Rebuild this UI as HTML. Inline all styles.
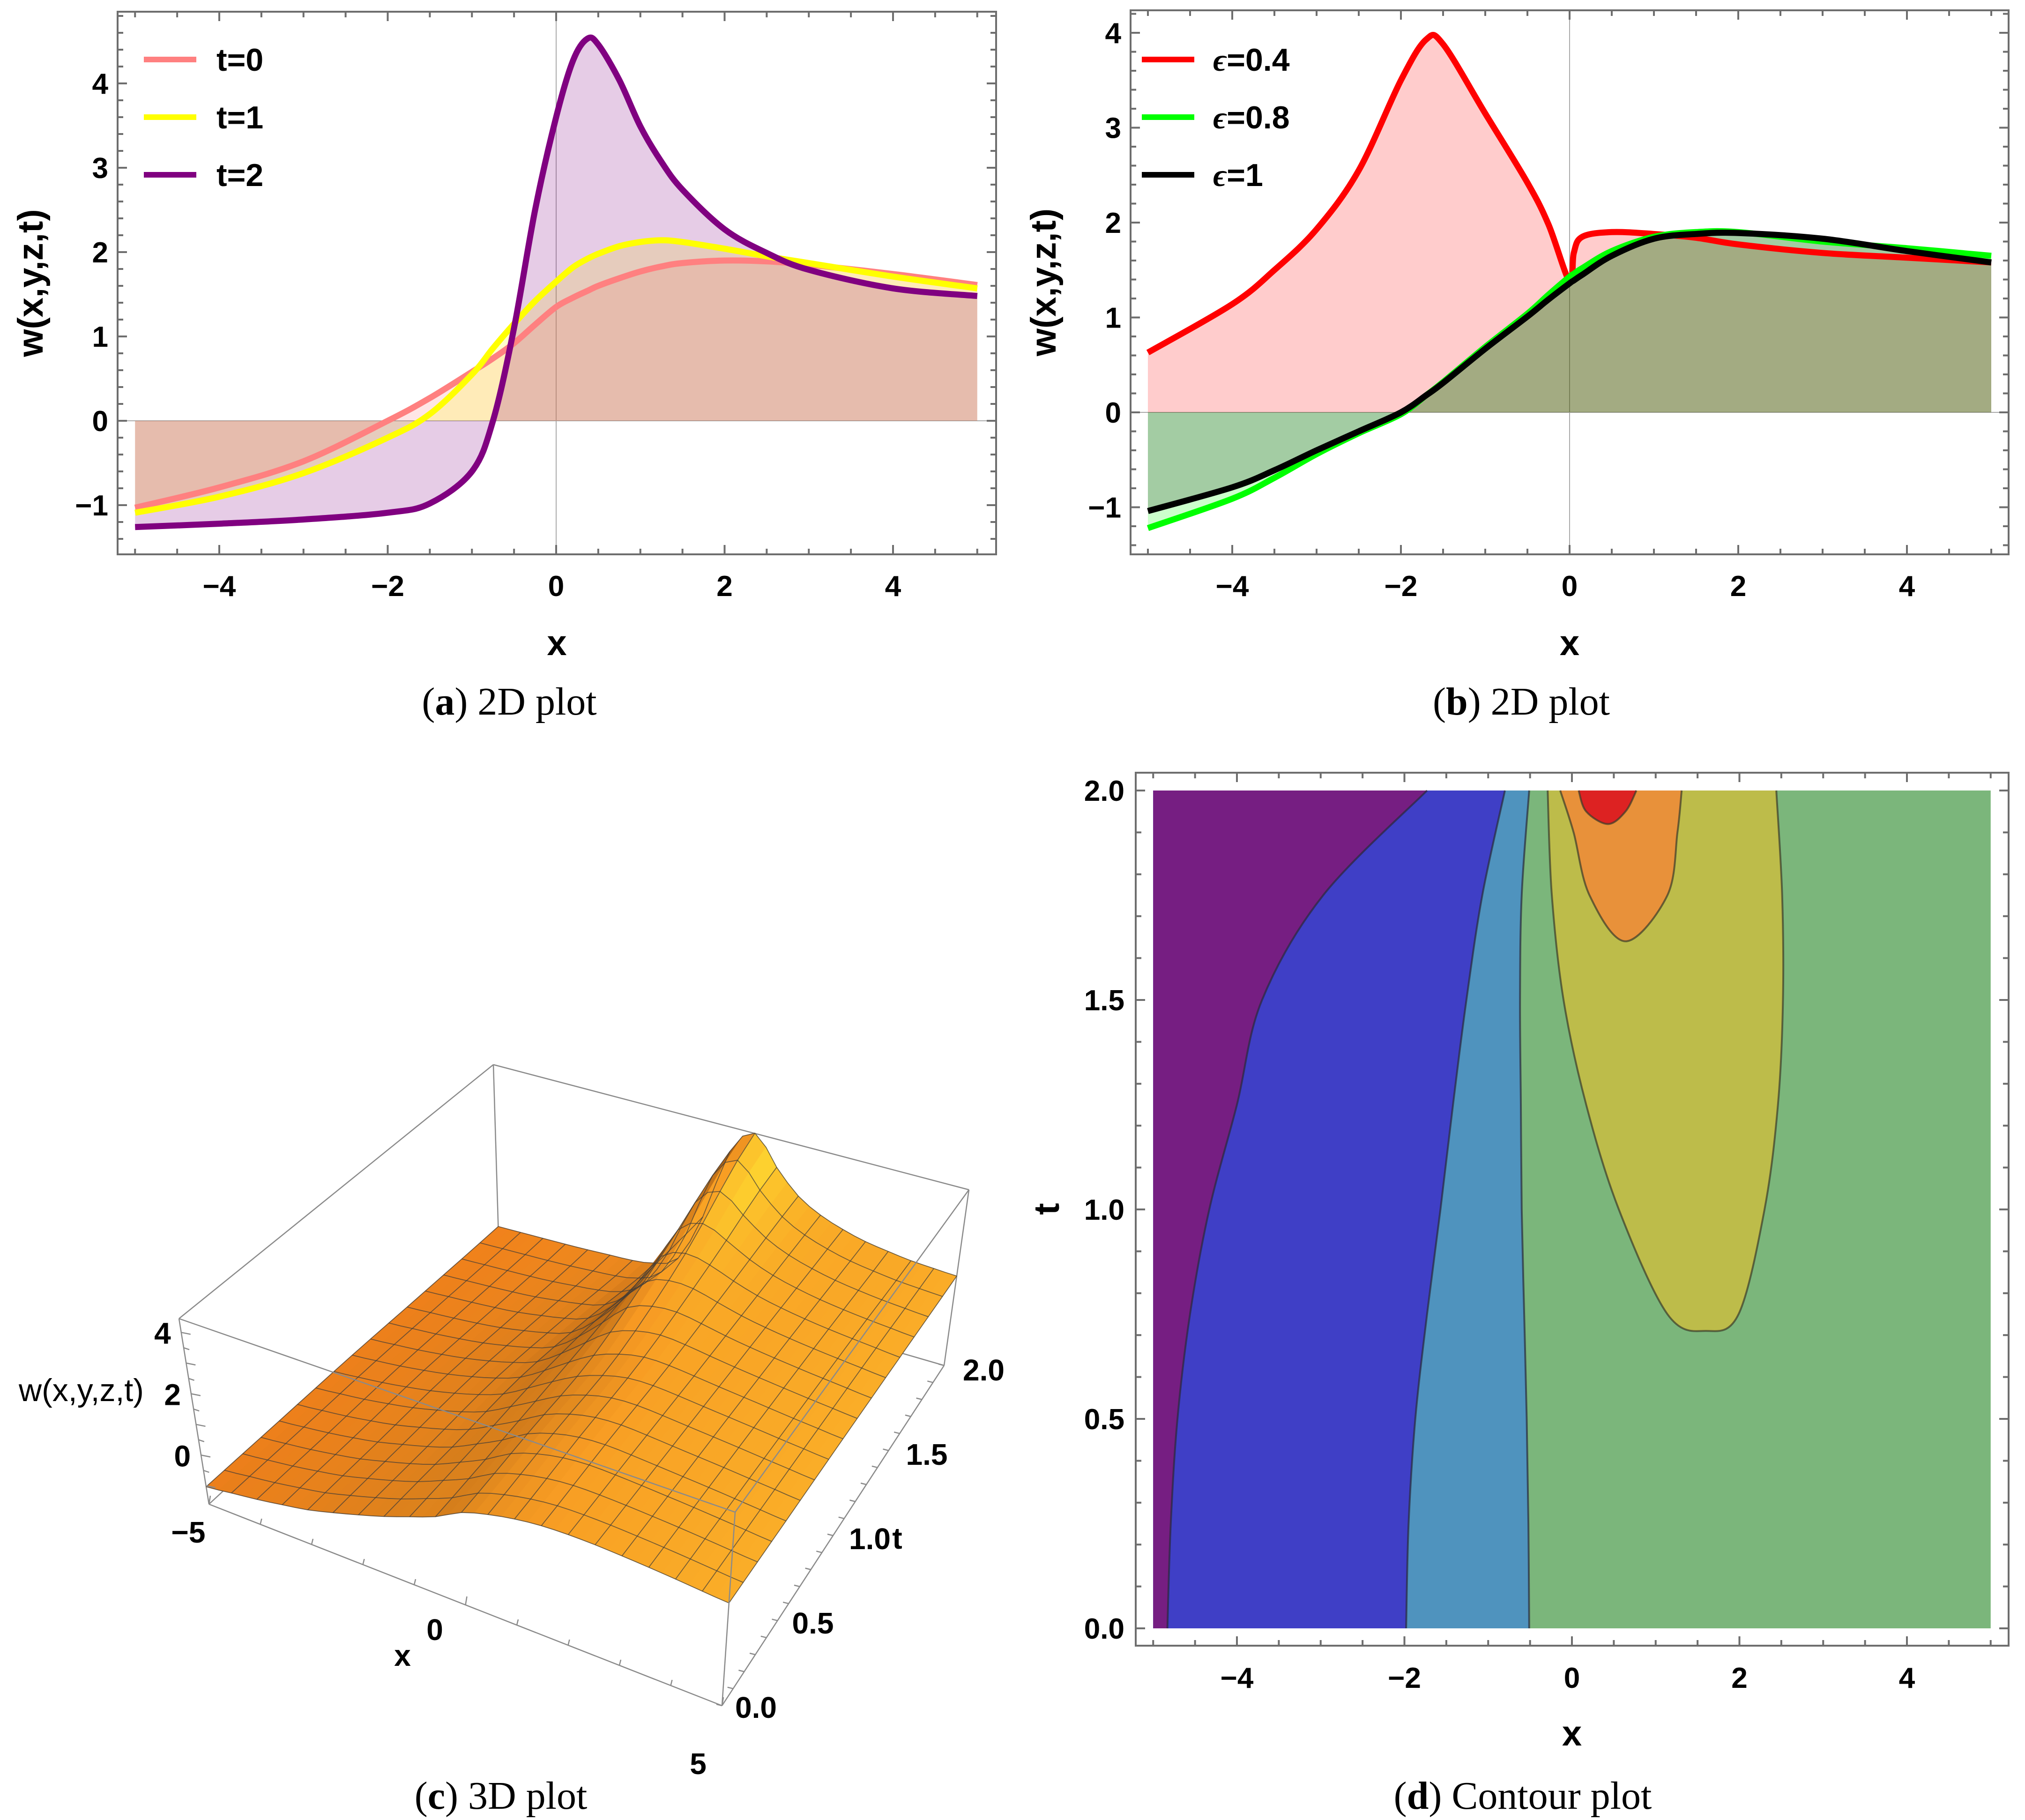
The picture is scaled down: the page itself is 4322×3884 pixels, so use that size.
<!DOCTYPE html>
<html><head><meta charset="utf-8"><style>
html,body{margin:0;padding:0;background:#fff}
svg{display:block}
text{font-family:"Liberation Sans",sans-serif}
.tk{font-weight:bold;font-size:62px}
.ttl{font-weight:bold;font-size:76px}
.cap{font-family:"Liberation Serif",serif;font-size:84px}
</style></head><body>
<svg id="fig" xmlns="http://www.w3.org/2000/svg" width="4322" height="3884" viewBox="0 0 4322 3884">
<rect x="0" y="0" width="4322" height="3884" fill="#fff"/>
<g id="pa"></g>
<g id="pb"></g>
<g id="pc"></g>
<g id="pd"></g>
<text class="cap" x="1087" y="1525" text-anchor="middle">(<tspan font-weight="bold">a</tspan>) 2D plot</text>
<text class="cap" x="3247" y="1525" text-anchor="middle">(<tspan font-weight="bold">b</tspan>) 2D plot</text>
<text class="cap" x="1069" y="3860" text-anchor="middle">(<tspan font-weight="bold">c</tspan>) 3D plot</text>
<text class="cap" x="3250" y="3860" text-anchor="middle">(<tspan font-weight="bold">d</tspan>) Contour plot</text>
</svg>
<script>
// ---------- Panel (a) data ----------
const xsA = [-5,-4,-3,-2,-1.5,-1,-0.75,-0.5,-0.25,0,0.2,0.37,0.5,0.75,1,1.25,1.5,2,2.5,3,4,5];
const t0Vals = [-1.03,-0.79,-0.48,0,0.27,0.58,0.74,0.92,1.14,1.35,1.46,1.54,1.6,1.69,1.77,1.83,1.87,1.9,1.89,1.85,1.74,1.61];
const t1Vals = [-1.09,-0.9,-0.62,-0.2,0.08,0.55,0.86,1.15,1.42,1.65,1.82,1.92,1.98,2.07,2.12,2.14,2.12,2.04,1.95,1.87,1.71,1.57];
const t2Vals = [-1.26,-1.22,-1.17,-1.09,-0.98,-0.6,0,1.1,2.5,3.6,4.27,4.53,4.46,4.04,3.49,3.07,2.74,2.27,1.99,1.79,1.57,1.48];
const seriesALabels = ["t=0","t=1","t=2"];
// ---------- Panel (b) data ----------
const xsB = [-5,-4,-3.5,-3,-2.5,-2,-1.7,-1.5,-1,-0.5,-0.25,0,0.05,0.15,0.5,1,1.5,2,3,4,5];
const eps04Vals = [0.63,1.14,1.5,1.93,2.55,3.5,3.93,3.88,3.15,2.42,1.98,1.38,1.68,1.85,1.9,1.88,1.84,1.77,1.68,1.63,1.58];
const eps08Vals = [-1.22,-0.91,-0.69,-0.44,-0.22,-0.02,0.18,0.32,0.69,1.04,1.24,1.43,1.46,1.52,1.7,1.85,1.9,1.9,1.8,1.73,1.65];
const eps1Vals = [-1.04,-0.79,-0.61,-0.4,-0.2,0.0,0.18,0.31,0.67,1.01,1.19,1.36,1.39,1.45,1.65,1.83,1.88,1.89,1.83,1.7,1.58];
const seriesBLabels = ["0.4","0.8","1"];
const ticksX = [-4,-2,0,2,4];
const ticksYab = [-1,0,1,2,3,4];
// ---------- Panel (c) surface data ----------
const xs3 = [-5,-4.5,-4,-3.5,-3,-2.5,-2,-1.5,-1,-0.5,0,0.5,1,1.5,2,2.5,3,3.5,4,4.5,5];
const ts3 = [0,0.5,1,1.5,2];
const surfT0 = [-1.03,-0.91,-0.79,-0.64,-0.48,-0.25,0,0.27,0.58,0.9,1.35,1.6,1.77,1.87,1.9,1.89,1.85,1.8,1.74,1.67,1.61];
const surfT05 = [-1.06,-0.96,-0.85,-0.71,-0.55,-0.33,-0.1,0.18,0.58,1.0,1.5,1.8,1.97,2.02,1.98,1.92,1.86,1.8,1.73,1.66,1.59];
const surfT1 = [-1.09,-1.0,-0.9,-0.77,-0.62,-0.43,-0.2,0.1,0.6,1.15,1.65,1.96,2.13,2.12,2.04,1.95,1.87,1.79,1.71,1.64,1.57];
const surfT15 = [-1.18,-1.12,-1.06,-0.99,-0.9,-0.76,-0.6,-0.35,0.3,1.3,2.5,2.85,2.7,2.4,2.15,1.98,1.85,1.75,1.67,1.6,1.53];
const surfT2 = [-1.26,-1.24,-1.22,-1.2,-1.17,-1.13,-1.09,-0.96,-0.57,1.1,3.6,4.46,3.49,2.71,2.27,1.99,1.79,1.67,1.57,1.52,1.48];
const zTicks3 = [0,2,4];
const xTicks3 = [-5,0,5];
const tTicks3 = [0,0.5,1,1.5,2];
// ---------- Panel (d) contour boundaries (x at given t) ----------
const tB = [0,0.25,0.5,0.75,1,1.25,1.5,1.75,2];
const bndPurpleBlue = [-4.83,-4.79,-4.71,-4.56,-4.33,-4.0,-3.7,-2.97,-1.73];
const bndBlueSteel = [-1.98,-1.95,-1.87,-1.73,-1.57,-1.42,-1.26,-1.07,-0.8];
const bndSteelGreen = [-0.51,-0.52,-0.54,-0.57,-0.6,-0.61,-0.62,-0.6,-0.51];
const yellowX = [-0.29,-0.24,-0.1,0.17,0.56,1.14,1.6,1.99,2.3,2.46,2.52,2.51,2.44];
const yellowT = [2,1.75,1.5,1.25,1,0.75,0.71,0.75,1,1.25,1.5,1.75,2];
const orangeX = [-0.14,0.02,0.21,0.64,1.14,1.26,1.31];
const orangeT = [2,1.9,1.75,1.64,1.75,1.9,2];
const redX = [0.08,0.17,0.43,0.64,0.77];
const redT = [2,1.95,1.92,1.95,2];
const ticksXd = [-4,-2,0,2,4];
const ticksTd = [0,0.5,1,1.5,2];

const NS="http://www.w3.org/2000/svg";
function mk(parent,tag,attrs,name){
  const e=document.createElementNS(NS,tag);
  for(const k in attrs) e.setAttribute(k,attrs[k]);
  
  
  parent.appendChild(e);return e;
}
function txt(parent,x,y,s,cls,anchor,name,extra){
  const e=mk(parent,'text',Object.assign({x:x,y:y,'text-anchor':anchor||'middle'},extra||{}),name);
  if(cls) e.setAttribute('class',cls);
  e.textContent=s;return e;
}
function smooth(pts){
  let d='M'+pts[0][0].toFixed(1)+','+pts[0][1].toFixed(1);
  for(let i=0;i<pts.length-1;i++){
    const p0=pts[Math.max(0,i-1)],p1=pts[i],p2=pts[i+1],p3=pts[Math.min(pts.length-1,i+2)];
    const c1=[p1[0]+(p2[0]-p0[0])/6,p1[1]+(p2[1]-p0[1])/6];
    const c2=[p2[0]-(p3[0]-p1[0])/6,p2[1]-(p3[1]-p1[1])/6];
    d+='C'+c1[0].toFixed(1)+','+c1[1].toFixed(1)+' '+c2[0].toFixed(1)+','+c2[1].toFixed(1)+' '+p2[0].toFixed(1)+','+p2[1].toFixed(1);
  }
  return d;
}
function frameTicks(g,fx0,fy0,fx1,fy1,xs,xmin,xmax,xmaj,xmin_step,ys,ymin,ymax,ymaj,ymin_step){
  mk(g,'rect',{x:fx0,y:fy0,width:fx1-fx0,height:fy1-fy0,fill:'none',stroke:'#6e6e6e','stroke-width':4},'plot-frame');
  const n1=Math.round((xmax-xmin)/xmin_step);
  for(let i=0;i<=n1;i++){const v=xmin+i*xmin_step;const X=xs(v);if(X<fx0||X>fx1)continue;
    const maj=Math.abs(v/xmaj-Math.round(v/xmaj))<1e-6;const L=maj?20:12;
    mk(g,'line',{x1:X,y1:fy1,x2:X,y2:fy1-L,stroke:'#6e6e6e','stroke-width':4},'x-tick');
    mk(g,'line',{x1:X,y1:fy0,x2:X,y2:fy0+L,stroke:'#6e6e6e','stroke-width':4},'x-tick-top');}
  const n2=Math.round((ymax-ymin)/ymin_step);
  for(let i=0;i<=n2;i++){const v=ymin+i*ymin_step;const Y=ys(v);if(Y<fy0||Y>fy1)continue;
    const maj=Math.abs(v/ymaj-Math.round(v/ymaj))<1e-6;const L=maj?20:12;
    mk(g,'line',{x1:fx0,y1:Y,x2:fx0+L,y2:Y,stroke:'#6e6e6e','stroke-width':4},'y-tick');
    mk(g,'line',{x1:fx1,y1:Y,x2:fx1-L,y2:Y,stroke:'#6e6e6e','stroke-width':4},'y-tick-right');}
}
function linePanel(g,xs,ys,fr,xsData,series,colors,labels,legendX,textX,isEps){
  mk(g,'line',{x1:xs(0),y1:fr[1],x2:xs(0),y2:fr[3],stroke:'#aaa','stroke-width':2},'y-axis-line');
  mk(g,'line',{x1:fr[0],y1:ys(0),x2:fr[2],y2:ys(0),stroke:'#aaa','stroke-width':2},'x-axis-line');
  series.forEach((vals,k)=>{
    const pts=xsData.map((x,i)=>[xs(x),ys(vals[i])]);
    const d=smooth(pts);
    mk(g,'path',{d:d+'L'+xs(xsData[xsData.length-1])+','+ys(0)+'L'+xs(xsData[0])+','+ys(0)+'Z',fill:colors[k],'fill-opacity':0.2,stroke:'none'},'series-fill');
  });
  series.forEach((vals,k)=>{
    const pts=xsData.map((x,i)=>[xs(x),ys(vals[i])]);
    mk(g,'path',{d:smooth(pts),fill:'none',stroke:colors[k],'stroke-width':13,'stroke-linejoin':'round'},'series-line');
  });
  frameTicks(g,fr[0],fr[1],fr[2],fr[3],xs,-5,5,2,0.5,ys,-2,5,1,0.2);
  ticksX.forEach(v=>{txt(g,xs(v),1272,v<0?'\u2212'+(-v):String(v),'tk','middle','x-tick-label');});
  ticksYab.forEach(v=>{if(ys(v)<fr[1])return;txt(g,fr[0]-20,ys(v)+22,v<0?'\u2212'+(-v):String(v),'tk','end','y-tick-label');});
  txt(g,(fr[0]+fr[2])/2,1398,'x','ttl','middle','x-axis-title');
  const yt=mk(g,'text',{x:0,y:0,'text-anchor':'middle',transform:'translate('+(fr[0]-160)+','+((fr[1]+fr[3])/2)+') rotate(-90)',class:'ttl'},'y-axis-title');
  yt.textContent='w(x,y,z,t)';
  labels.forEach((lab,k)=>{
    const y=127+k*123;
    mk(g,'line',{x1:legendX,y1:y,x2:legendX+112,y2:y,stroke:colors[k],'stroke-width':12},'legend-swatch');
    const t=mk(g,'text',{x:textX,y:y+24,'font-weight':'bold','font-size':68},'legend-entry');
    if(isEps){const s=document.createElementNS(NS,'tspan');s.setAttribute('font-family','Liberation Serif, serif');s.setAttribute('font-style','italic');s.textContent='\u03F5';t.appendChild(s);t.appendChild(document.createTextNode('='+lab));}
    else t.textContent=lab;
  });
}
// Panel A
(function(){
  const g=document.getElementById('pa');
  const xs=v=>1187+v*179.75, ys=v=>898-v*180;
  linePanel(g,xs,ys,[251,25,2126,1183],xsA,[t0Vals,t1Vals,t2Vals],['#ff8080','#ffff00','#800080'],seriesALabels,307,462,false);
})();
// Panel B
(function(){
  const g=document.getElementById('pb');
  const xs=v=>3350+v*180, ys=v=>880-v*202.5;
  linePanel(g,xs,ys,[2413,22,4287,1183],xsB,[eps04Vals,eps08Vals,eps1Vals],['#ff0000','#00ff00','#000000'],seriesBLabels,2437,2589,true);
})();
// Panel C (3D)
(function(){
  const g=document.getElementById('pc');
  const ZMIN=-1.6,ZMAX=4.45;
  const C={P000:[446,3210],P100:[1541,3640],P010:[1064,2638],P110:[2015,2914],P001:[382,2814],P101:[1569,3227],P011:[1053,2272],P111:[2068,2539]};
  function proj(x,t,z){
    const u=(x+5)/10,v=t/2,w=(z-ZMIN)/(ZMAX-ZMIN);
    const L=(a,b,s)=>[a[0]+(b[0]-a[0])*s,a[1]+(b[1]-a[1])*s];
    const b=L(L(C.P000,C.P100,u),L(C.P010,C.P110,u),v);
    const tp=L(L(C.P001,C.P101,u),L(C.P011,C.P111,u),v);
    return L(b,tp,w);
  }
  const E=(a,b,nm)=>mk(g,'line',{x1:C[a][0],y1:C[a][1],x2:C[b][0],y2:C[b][1],stroke:'#8a8a8a','stroke-width':2.5},nm);
  E('P010','P011','box-edge');E('P011','P111','box-edge');E('P011','P001','box-edge');E('P001','P000','box-edge');
  E('P000','P100','box-edge');E('P100','P110','box-edge');E('P110','P111','box-edge');E('P000','P010','box-edge');E('P010','P110','box-edge');
  const rows=[surfT0,surfT05,surfT1,surfT15,surfT2];
  function cr(arr,i,f){const n=arr.length;const p0=arr[Math.max(0,i-1)],p1=arr[i],p2=arr[Math.min(n-1,i+1)],p3=arr[Math.min(n-1,i+2)];
    const f2=f*f,f3=f2*f;return 0.5*((2*p1)+(-p0+p2)*f+(2*p0-5*p1+4*p2-p3)*f2+(-p0+3*p1-3*p2+p3)*f3);}
  const SX=2,ST=4;
  const xx=[];for(let i=0;i<xs3.length-1;i++)for(let s=0;s<SX;s++)xx.push(xs3[i]+(xs3[i+1]-xs3[i])*s/SX);xx.push(xs3[xs3.length-1]);
  const rowsX=rows.map(r=>{const o=[];for(let i=0;i<r.length-1;i++)for(let s=0;s<SX;s++)o.push(cr(r,i,s/SX));o.push(r[r.length-1]);return o;});
  const tt=[],zz=[];
  for(let r=0;r<ts3.length-1;r++){for(let s=0;s<ST;s++){const f=s/ST;tt.push(ts3[r]+(ts3[r+1]-ts3[r])*f);zz.push(xx.map((x,i)=>cr(rowsX.map(q=>q[i]),r,f)));}}
  tt.push(ts3[ts3.length-1]);zz.push(rowsX[rowsX.length-1].slice());
  const mix=(a,b,s)=>a.map((c,i)=>Math.round(c+(b[i]-c)*s));
  for(let j=tt.length-2;j>=0;j--){
    for(let i=0;i<xx.length-1;i++){
      const p=[proj(xx[i],tt[j],zz[j][i]),proj(xx[i+1],tt[j],zz[j][i+1]),proj(xx[i+1],tt[j+1],zz[j+1][i+1]),proj(xx[i],tt[j+1],zz[j+1][i])];
      const dx=xx[i+1]-xx[i];
      const slope=((zz[j][i+1]-zz[j][i])+(zz[j+1][i+1]-zz[j+1][i]))/(2*dx);
      const dt=tt[j+1]-tt[j];
      const tslope=((zz[j+1][i]-zz[j][i])+(zz[j+1][i+1]-zz[j][i+1]))/(2*dt);
      const u=(xx[i]+5)/10;
      let base=mix([244,132,28],[250,172,40],u);
      let s=-0.3*slope+0.08*tslope;
      let col=s<0?mix(base,[120,60,10],Math.min(0.75,-s)):mix(base,[255,225,50],Math.min(0.85,s));
      mk(g,'path',{d:'M'+p.map(q=>q[0].toFixed(1)+','+q[1].toFixed(1)).join('L')+'Z',fill:'rgb('+col.join(',')+')',stroke:'rgb('+col.join(',')+')','stroke-width':1},'surface-patch');
    }
  }
  for(let j=0;j<tt.length;j++){
    const pts=xx.map((x,i)=>proj(x,tt[j],zz[j][i]));
    mk(g,'path',{d:'M'+pts.map(q=>q[0].toFixed(1)+','+q[1].toFixed(1)).join('L'),fill:'none',stroke:'#3a3a3a','stroke-width':1.8,'stroke-opacity':0.7},'mesh-line-t');
  }
  for(let i=0;i<xx.length;i+=SX){
    const pts=tt.map((t,j)=>proj(xx[i],t,zz[j][i]));
    mk(g,'path',{d:'M'+pts.map(q=>q[0].toFixed(1)+','+q[1].toFixed(1)).join('L'),fill:'none',stroke:'#3a3a3a','stroke-width':1.8,'stroke-opacity':0.7},'mesh-line-x');
  }
  E('P001','P101','box-edge-front');E('P101','P111','box-edge-front');E('P101','P100','box-edge-front');
  zTicks3.forEach(v=>{const q=proj(-5,0,v);txt(g,q[0]-22,q[1]+24,String(v),'','end','z-tick-label',{'font-size':64,'font-weight':'bold'});});
  for(let v=-1;v<=4;v+=0.5){const q=proj(-5,0,v);mk(g,'line',{x1:q[0],y1:q[1],x2:q[0]+(v%1===0?20:12),y2:q[1]+4,stroke:'#8a8a8a','stroke-width':2.5},'z-tick');}
  txt(g,40,2990,'w(x,y,z,t)','','start','z-axis-title',{'font-size':68});
  const xlabPos=[[402,3292],[928,3500],[1490,3786]];
  xTicks3.forEach((v,k)=>{txt(g,xlabPos[k][0],xlabPos[k][1],v<0?'\u2212'+(-v):String(v),'','middle','x-tick-label',{'font-size':64,'font-weight':'bold'});});
  for(let v=-5;v<=5;v+=1){const q=proj(v,0,ZMIN);mk(g,'line',{x1:q[0],y1:q[1],x2:q[0]+3,y2:q[1]-(v%5===0?18:12),stroke:'#8a8a8a','stroke-width':2.5},'x-tick');}
  txt(g,859,3555,'x','','middle','x-axis-title',{'font-size':64,'font-weight':'bold'});
  tTicks3.forEach(v=>{const q=proj(5,v,ZMIN);txt(g,q[0]+40-6*(2-v),q[1]+32+7*(2-v)-10*(2-v),v.toFixed(1),'','start','t-tick-label',{'font-size':64,'font-weight':'bold'});});
  for(let v=0;v<=2.001;v+=0.1){const q=proj(5,v,ZMIN);mk(g,'line',{x1:q[0],y1:q[1],x2:q[0]-12,y2:q[1]-3,stroke:'#8a8a8a','stroke-width':2.5},'t-tick');}
  txt(g,1915,3305,'t','','middle','t-axis-title',{'font-size':64,'font-weight':'bold'});
})();
// Panel D (contour)
(function(){
  const g=document.getElementById('pd');
  const xs=v=>3355+v*178.75, ys=t=>3475-t*894;
  const X0=xs(-5),X1=xs(5),Y0=ys(2),Y1=ys(0);
  mk(g,'rect',{x:X0,y:Y0,width:X1-X0,height:Y1-Y0,fill:'#7bb67b'},'region-green');
  const curve=(xa,ta)=>xa.map((x,i)=>[xs(x),ys(ta[i])]);
  const b1=curve(bndPurpleBlue,tB),b2=curve(bndBlueSteel,tB),b3=curve(bndSteelGreen,tB);
  const leftFill=(b)=>smooth(b)+'L'+X0+','+Y0+'L'+X0+','+Y1+'Z';
  mk(g,'path',{d:leftFill(b3),fill:'#4f93be'},'region-steelblue');
  mk(g,'path',{d:leftFill(b2),fill:'#3f3fc6'},'region-blue');
  mk(g,'path',{d:leftFill(b1),fill:'#761e82'},'region-purple');
  const y=curve(yellowX,yellowT),o=curve(orangeX,orangeT),r=curve(redX,redT);
  mk(g,'path',{d:smooth(y)+'Z',fill:'#bdbc4a'},'region-olive');
  mk(g,'path',{d:smooth(o)+'Z',fill:'#e8913a'},'region-orange');
  mk(g,'path',{d:smooth(r)+'Z',fill:'#dd2222'},'region-red');
  [b1,b2,b3].forEach(b=>mk(g,'path',{d:smooth(b),fill:'none',stroke:'#2a2a3a','stroke-width':4,'stroke-opacity':0.7},'contour-line'));
  [y,o,r].forEach(b=>mk(g,'path',{d:smooth(b),fill:'none',stroke:'#3a3a2a','stroke-width':4,'stroke-opacity':0.7},'contour-line'));
  frameTicks(g,2424,1649,4287,3512,xs,-5.5,5.5,2,0.5,ys,-0.1,2.1,0.5,0.1);
  ticksXd.forEach(v=>txt(g,xs(v),3602,v<0?'\u2212'+(-v):String(v),'tk','middle','x-tick-label'));
  ticksTd.forEach(v=>txt(g,2400,ys(v)+22,v.toFixed(1),'tk','end','y-tick-label'));
  txt(g,3355,3725,'x','ttl','middle','x-axis-title');
  mk(g,'text',{x:0,y:0,'text-anchor':'middle',transform:'translate(2260,2580) rotate(-90)',class:'ttl'},'y-axis-title').textContent='t';
})();
</script>
</body></html>
